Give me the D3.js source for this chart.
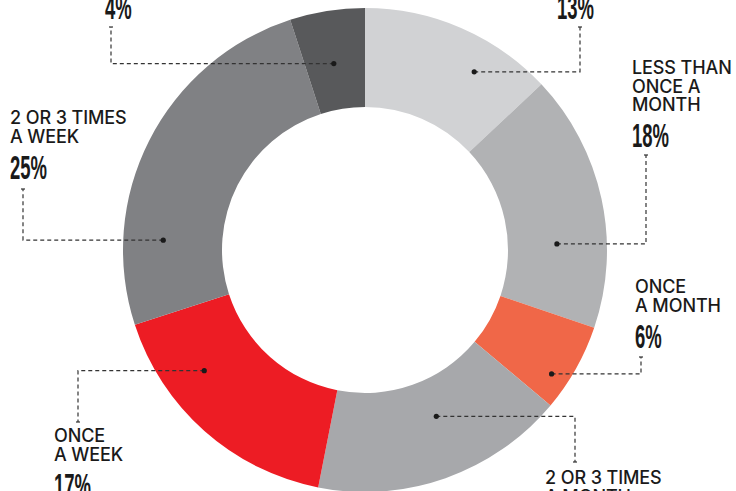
<!DOCTYPE html>
<html>
<head>
<meta charset="utf-8">
<script src="https://cdn.jsdelivr.net/npm/d3@7"></script>
<style>
  html, body { margin: 0; padding: 0; background: #fff; }
  svg { display: block; }
  .name { font-family: Inter, "Noto Sans", sans-serif; font-weight: 500; font-size: 18px; fill: #1a1a1a; letter-spacing: -0.1px; }
  .pct { font-family: "Liberation Sans Narrow", "Liberation Sans", sans-serif; font-weight: 700; font-size: 33px; fill: #1a1a1a; }
  .leader { fill: none; stroke: #333; stroke-width: 1.2; stroke-dasharray: 4 3; }
</style>
</head>
<body>
<div id="chart"></div>
<script>
// segments, clockwise from 12 o'clock
const categories = ["Never", "Less than once a month", "Once a month", "2 or 3 times a month",
                    "Once a week", "2 or 3 times a week", "More than 3 times a week"];
const shares = [13, 17.2, 5.9, 17, 16.9, 25, 5];
const pctLabels = ["13%", "18%", "6%", "17%", "17%", "25%", "4%"];
const nameLines = [
  [],
  ["LESS THAN", "ONCE A", "MONTH"],
  ["ONCE", "A MONTH"],
  ["2 OR 3 TIMES", "A MONTH"],
  ["ONCE", "A WEEK"],
  ["2 OR 3 TIMES", "A WEEK"],
  []
];
const colors = ["#d1d2d4", "#b1b2b4", "#f06748", "#a7a8ab", "#ed1c24", "#808184", "#58595b"];

// annotation layout: dot (polar, deg/px), elbow x, tick y, text x/first baseline
const layout = [
  { a: 31.5,  r: 209, ex: 580, ty: 27,  tx: 557, ty0: -17 },
  { a: 88.2,  r: 192, ex: 646, ty: 155, tx: 632, ty0: 74 },
  { a: 123.6, r: 224, ex: 641, ty: 357, tx: 635, ty0: 293 },
  { a: 156.8, r: 181, ex: 575, ty: 462, tx: 545, ty0: 484 },
  { a: 233.1, r: 201, ex: 78,  ty: 422, tx: 54,  ty0: 442 },
  { a: 272.8, r: 202, ex: 23,  ty: 189, tx: 10,  ty0: 124 },
  { a: 350.5, r: 189, ex: 111, ty: 27,  tx: 105, ty0: -17 }
];

const W = 736, H = 491;
const cx = 365, cy = 250, rOuter = 242, rInner = 143;
const lineH = 18.7, pctGap = 36;

const svg = d3.select("#chart").append("svg")
    .attr("width", W)
    .attr("height", H);

const pie = d3.pie().sort(null).value(d => d);
const arc = d3.arc().innerRadius(rInner).outerRadius(rOuter);

const g = svg.append("g").attr("transform", `translate(${cx},${cy})`);

g.selectAll("path")
    .data(pie(shares))
    .enter().append("path")
    .attr("d", arc)
    .attr("fill", (d, i) => colors[i]);

const rad = deg => deg * Math.PI / 180;
const polar = (deg, r) => [cx + r * Math.sin(rad(deg)), cy - r * Math.cos(rad(deg))];

layout.forEach((l, i) => {
    const [dx, dy] = polar(l.a, l.r);

    svg.append("path")
        .attr("class", "leader")
        .attr("d", `M${dx},${dy}H${l.ex}V${l.ty}`);

    // little tick at the label end
    svg.append("line")
        .attr("x1", l.ex - 2).attr("x2", l.ex + 2)
        .attr("y1", l.ty).attr("y2", l.ty)
        .attr("stroke", "#333").attr("stroke-width", 1.2);

    svg.append("circle")
        .attr("cx", dx).attr("cy", dy)
        .attr("r", 2.6)
        .attr("fill", "#1a1a1a");

    const lines = nameLines[i];
    lines.forEach((t, k) => {
        svg.append("text")
            .attr("class", "name")
            .attr("x", l.tx)
            .attr("y", l.ty0 + k * lineH)
            .text(t);
    });

    const py = lines.length ? l.ty0 + (lines.length - 1) * lineH + pctGap : l.ty0 + pctGap;
    svg.append("text")
        .attr("class", "pct")
        .attr("transform", `translate(${l.tx},${py}) scale(0.56,1)`)
        .text(pctLabels[i]);
});
</script>
</body>
</html>
